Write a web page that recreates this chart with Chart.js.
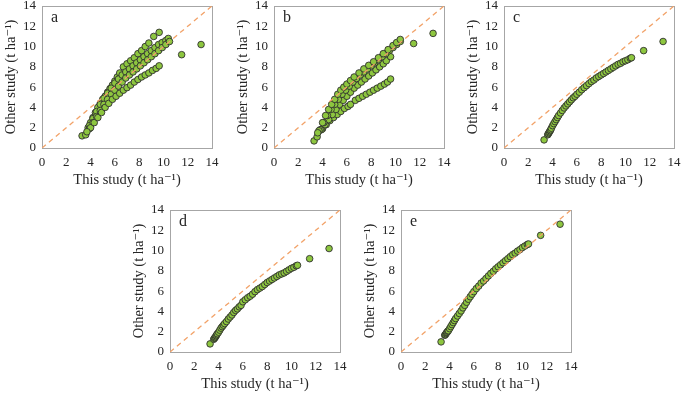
<!DOCTYPE html>
<html>
<head>
<meta charset="utf-8">
<script src="https://cdn.jsdelivr.net/npm/chart.js@4"></script>
<style>
  html, body { margin:0; padding:0; background:#fff; width:685px; height:394px; overflow:hidden; position:relative; }
  .panel { position:absolute; width:220px; height:195px; }
</style>
</head>
<body>
<div class="panel" style="left:0px;top:0px"><canvas id="pa" width="220" height="195"></canvas></div>
<div class="panel" style="left:232px;top:0px"><canvas id="pb" width="220" height="195"></canvas></div>
<div class="panel" style="left:462px;top:0px"><canvas id="pc" width="220" height="195"></canvas></div>
<div class="panel" style="left:128px;top:204px"><canvas id="pd" width="220" height="195"></canvas></div>
<div class="panel" style="left:359px;top:204px"><canvas id="pe" width="220" height="195"></canvas></div>

<script>
/* ===== data (t/ha) ===== */
const axisTicks = [0, 2, 4, 6, 8, 10, 12, 14];
const oneToOneX = [0, 14];
const oneToOneY = [0, 14];

// panel a
const a0x = [3.3, 3.6, 3.7, 11.5, 13.1];
const a0y = [1.2, 1.3, 1.6, 9.2, 10.2];
const a1x = [3.8, 4.0, 4.2, 4.4, 4.6, 4.8, 5.0, 5.2, 5.4, 5.6, 5.8, 6.0, 6.2, 6.4];
const a1y = [2.0, 2.5, 3.0, 3.5, 4.0, 4.4, 4.8, 5.1, 5.5, 5.85, 6.2, 6.6, 7.0, 7.4];
const a2x = [6.7, 7.0, 7.3, 7.6, 7.9, 8.2, 8.5, 8.8, 9.2, 9.65];
const a2y = [8.0, 8.3, 8.6, 8.9, 9.3, 9.6, 10.0, 10.35, 11.0, 11.4];
const a3x = [3.9, 4.2, 4.5, 4.8, 5.1, 5.4, 5.7, 6.0, 6.3, 6.6, 6.9, 7.2, 7.5, 7.8, 8.1, 8.4, 8.7, 9.0, 9.3, 9.6, 9.9, 10.2, 10.4];
const a3y = [2.2, 2.9, 3.6, 4.3, 4.9, 5.4, 5.9, 6.4, 6.8, 7.2, 7.5, 7.8, 8.1, 8.4, 8.7, 9.0, 9.3, 9.6, 9.9, 10.2, 10.4, 10.6, 10.8];
const a4x = [3.9, 4.2, 4.5, 4.8, 5.1, 5.4, 5.7, 6.0, 6.3, 6.6, 6.9, 7.2, 7.5, 7.8, 8.1, 8.4, 8.7, 9.0, 9.3, 9.6, 9.9, 10.2, 10.5];
const a4y = [1.9, 2.5, 3.1, 3.7, 4.3, 4.8, 5.3, 5.7, 6.1, 6.5, 6.9, 7.2, 7.5, 7.8, 8.1, 8.4, 8.7, 9.0, 9.3, 9.6, 9.9, 10.2, 10.5];
const a5x = [4.0, 4.3, 4.6, 4.9, 5.2, 5.5, 5.8, 6.1, 6.4, 6.7, 7.0, 7.3, 7.6, 7.9, 8.2, 8.5, 8.8, 9.1, 9.4, 9.65];
const a5y = [2.0, 2.5, 3.0, 3.5, 4.0, 4.4, 4.8, 5.1, 5.4, 5.7, 5.95, 6.2, 6.5, 6.75, 7.0, 7.2, 7.4, 7.65, 7.85, 8.1];

// panel b
const b0x = [3.3, 3.55, 3.6, 11.5, 13.1];
const b0y = [0.7, 1.1, 1.5, 10.3, 11.3];
const b1x = [3.7, 4.0, 4.25, 4.5, 4.75, 5.0, 5.25, 5.5, 5.75, 6.0, 6.3, 6.6, 7.0, 7.4, 7.8, 8.2, 8.6, 9.0, 9.4, 9.8, 10.1, 10.4];
const b1y = [1.7, 2.5, 3.2, 3.8, 4.3, 4.8, 5.3, 5.7, 6.0, 6.3, 6.65, 7.0, 7.4, 7.8, 8.15, 8.5, 8.9, 9.3, 9.7, 10.1, 10.4, 10.7];
const b2x = [3.8, 4.1, 4.4, 4.7, 5.0, 5.3, 5.6, 5.9, 6.2, 6.5, 6.8, 7.1, 7.4, 7.7, 8.0, 8.3, 8.6, 8.9, 9.2, 9.5, 9.8, 10.1, 10.4];
const b2y = [1.8, 2.5, 3.2, 3.8, 4.3, 4.8, 5.3, 5.7, 6.1, 6.5, 6.85, 7.2, 7.5, 7.8, 8.1, 8.4, 8.7, 9.0, 9.3, 9.6, 9.9, 10.2, 10.5];
const b3x = [3.9, 4.2, 4.5, 4.8, 5.1, 5.4, 5.7, 6.0, 6.3, 6.6, 6.9, 7.2, 7.5, 7.8, 8.1, 8.4, 8.7, 9.0, 9.25, 9.6];
const b3y = [1.8, 2.3, 2.8, 3.3, 3.8, 4.3, 4.7, 5.1, 5.5, 5.9, 6.2, 6.5, 6.8, 7.1, 7.4, 7.7, 8.0, 8.3, 8.6, 9.0];
const b4x = [4.0, 4.3, 4.6, 4.9, 5.2, 5.5, 5.8, 6.1, 6.3, 6.7, 7.0, 7.3, 7.6, 7.9, 8.2, 8.5, 8.8, 9.1, 9.35, 9.6];
const b4y = [1.9, 2.3, 2.7, 3.0, 3.3, 3.6, 3.9, 4.1, 4.3, 4.7, 4.9, 5.1, 5.3, 5.5, 5.7, 5.9, 6.1, 6.3, 6.5, 6.8];

// panels c, d, e share the same x positions
const curveX = [3.3, 3.6, 3.65, 3.7, 3.75, 3.8, 3.85, 3.9, 4.0, 4.1, 4.2, 4.3, 4.4, 4.5, 4.65, 4.8, 4.95,
  5.1, 5.25, 5.4, 5.55, 5.7, 5.85, 6.0, 6.2, 6.4, 6.6, 6.8, 7.0, 7.2, 7.4, 7.6, 7.8, 8.0, 8.2, 8.4,
  8.6, 8.8, 9.0, 9.2, 9.4, 9.6, 9.8, 10.0, 10.2, 10.4, 10.5, 11.5, 13.1];
const cY = [0.8, 1.3, 1.4, 1.5, 1.6, 1.7, 1.8, 1.95, 2.2, 2.4, 2.6, 2.8, 3.0, 3.2, 3.45, 3.7, 3.95,
  4.15, 4.35, 4.55, 4.75, 4.95, 5.1, 5.3, 5.5, 5.75, 5.95, 6.15, 6.35, 6.55, 6.7, 6.9, 7.05, 7.2, 7.35, 7.5,
  7.65, 7.8, 7.95, 8.1, 8.25, 8.35, 8.5, 8.6, 8.7, 8.85, 8.9, 9.6, 10.5];
const dY = [0.8, 1.25, 1.35, 1.4, 1.5, 1.6, 1.7, 1.8, 1.95, 2.15, 2.35, 2.5, 2.65, 2.8, 3.0, 3.25, 3.45,
  3.65, 3.9, 4.1, 4.25, 4.45, 4.6, 4.95, 5.15, 5.35, 5.5, 5.7, 5.95, 6.15, 6.3, 6.45, 6.65, 6.85, 7.0, 7.15,
  7.3, 7.45, 7.6, 7.7, 7.8, 7.95, 8.1, 8.25, 8.35, 8.5, 8.55, 9.2, 10.2];
const eY = [1.0, 1.65, 1.7, 1.8, 1.9, 1.95, 2.05, 2.1, 2.3, 2.5, 2.7, 2.9, 3.1, 3.3, 3.55, 3.8, 4.05,
  4.35, 4.6, 4.9, 5.2, 5.45, 5.7, 5.95, 6.25, 6.5, 6.8, 7.0, 7.25, 7.5, 7.75, 7.95, 8.2, 8.4, 8.6, 8.8,
  9.0, 9.2, 9.4, 9.6, 9.75, 9.95, 10.1, 10.3, 10.45, 10.6, 10.65, 11.5, 12.6];

/* ===== helpers ===== */
const SERIF = "'Liberation Serif', 'Times New Roman', 'DejaVu Serif', serif";
const TEXT = '#262626';

function pts(xs, ys){ return xs.map((x, i) => ({ x: x, y: ys[i] })); }

// scales: fixed box size, no extra label padding so the plot area lands where it should
function fixBox(w, h){
  return s => {
    if (w) s.width = w;
    if (h) s.height = h;
    s.paddingTop = 0; s.paddingBottom = 0; s.paddingLeft = 0; s.paddingRight = 0;
  };
}

// frame around plot area + panel letter
const panelFrame = {
  id: 'panelFrame',
  beforeDatasetsDraw(chart, args, opts){
    const { ctx, chartArea: a } = chart;
    ctx.save();
    ctx.strokeStyle = '#a6a6a6';
    ctx.lineWidth = 1;
    ctx.strokeRect(Math.round(a.left) + 0.5, Math.round(a.top) + 0.5, Math.round(a.right - a.left), Math.round(a.bottom - a.top));
    ctx.fillStyle = TEXT;
    ctx.font = '16px ' + SERIF;
    ctx.textBaseline = 'middle';
    ctx.fillText(opts.text || '', a.left + 9, a.top + 12);
    ctx.restore();
  }
};

function makeChart(id, letter, points){
  new Chart(document.getElementById(id), {
    type: 'scatter',
    data: {
      datasets: [
        {
          type: 'line',
          data: pts(oneToOneX, oneToOneY),
          borderColor: '#f2a268',
          borderWidth: 1.3,
          borderDash: [5, 4],
          pointRadius: 0,
          fill: false,
          order: 0
        },
        {
          data: points,
          backgroundColor: '#8dc63f',
          borderColor: '#303030',
          borderWidth: 0.9,
          pointRadius: 3.3,
          order: 1
        }
      ]
    },
    options: {
      responsive: false,
      animation: false,
      layout: { padding: { top: 6, right: 8, left: 0, bottom: 0 } },
      plugins: { legend: { display: false }, tooltip: { enabled: false }, panelFrame: { text: letter } },
      scales: {
        x: {
          type: 'linear', min: 0, max: 14,
          afterBuildTicks: s => { s.ticks = axisTicks.map(v => ({ value: v })); },
          ticks: { padding: 7, color: TEXT, font: { family: SERIF, size: 13 } },
          grid: { display: false, drawTicks: false },
          border: { display: false },
          title: { display: true, text: 'This study (t ha⁻¹)', color: TEXT, font: { family: SERIF, size: 14.5 }, padding: { top: 0, bottom: 6 } },
          afterFit: fixBox(0, 47)
        },
        y: {
          type: 'linear', min: 0, max: 14,
          afterBuildTicks: s => { s.ticks = axisTicks.map(v => ({ value: v })); },
          ticks: { padding: 6, color: TEXT, font: { family: SERIF, size: 13 } },
          grid: { display: false, drawTicks: false },
          border: { display: false },
          title: { display: true, text: 'Other study (t ha⁻¹)', color: TEXT, font: { family: SERIF, size: 14.5 }, padding: { top: 2, bottom: 0 } },
          afterFit: fixBox(42, 0)
        }
      }
    },
    plugins: [panelFrame]
  });
}

makeChart('pa', 'a', [].concat(pts(a1x, a1y), pts(a2x, a2y), pts(a3x, a3y), pts(a4x, a4y), pts(a5x, a5y), pts(a0x, a0y)));
makeChart('pb', 'b', [].concat(pts(b4x, b4y), pts(b3x, b3y), pts(b2x, b2y), pts(b1x, b1y), pts(b0x, b0y)));
makeChart('pc', 'c', pts(curveX, cY));
makeChart('pd', 'd', pts(curveX, dY));
makeChart('pe', 'e', pts(curveX, eY));
</script>
</body>
</html>
